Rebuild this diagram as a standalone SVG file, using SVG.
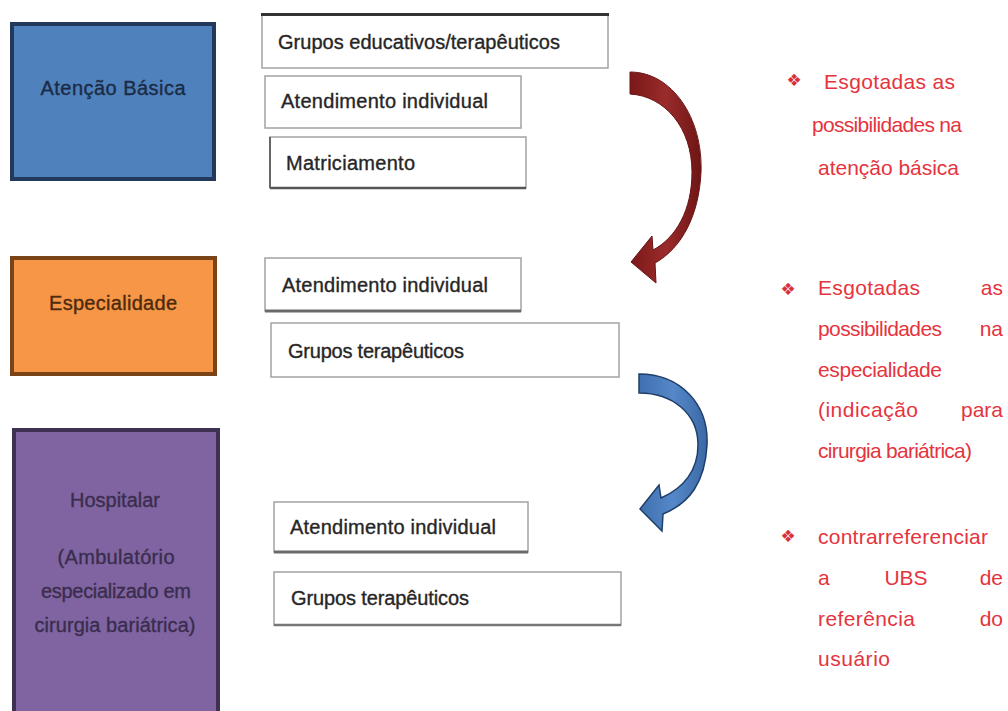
<svg xmlns="http://www.w3.org/2000/svg" width="1008" height="711" viewBox="0 0 1008 711">
<style>
.lbl{font-family:"Liberation Sans",Arial,sans-serif;font-size:20px;fill:#262626;stroke:#262626;stroke-width:0.35}
.wbox{fill:#ffffff;stroke:#a3a3a3;stroke-width:1.5}
.dk{stroke:#555;stroke-width:2.5}
.red{font-family:"Liberation Sans",Arial,sans-serif;font-size:21px;fill:#e5343d}
.bul{font-family:"DejaVu Sans",sans-serif;font-size:17px;fill:#d9303a}
</style>
<defs>
<linearGradient id="gRed" x1="0" y1="0" x2="1" y2="0">
<stop offset="0" stop-color="#7a1818"/><stop offset="0.5" stop-color="#9a2b2b"/><stop offset="1" stop-color="#6e1515"/>
</linearGradient>
<linearGradient id="gBlue" x1="0" y1="0" x2="1" y2="0">
<stop offset="0" stop-color="#3f6fae"/><stop offset="0.5" stop-color="#5588c8"/><stop offset="1" stop-color="#3b68a5"/>
</linearGradient>
</defs>
<rect width="1008" height="711" fill="#ffffff"/>

<g id="atencao-basica">
<rect x="12" y="24" width="202" height="155" fill="#4f81bd" stroke="#23395b" stroke-width="4"/>
<text x="113" y="95" class="lbl" style="fill:#1b2b45;stroke:#1b2b45" text-anchor="middle" textLength="145">Atenção Básica</text>
</g>
<g id="grupos-educativos">
<rect x="262" y="14" width="346" height="54" class="wbox"/>
<line x1="261" y1="14.5" x2="609" y2="14.5" stroke="#333" stroke-width="3"/>
<text x="278" y="49" class="lbl" textLength="282">Grupos educativos/terapêuticos</text>
</g>
<g id="atendimento-ab">
<rect x="265" y="76" width="256" height="52" class="wbox"/>
<text x="281" y="108" class="lbl" textLength="207">Atendimento individual</text>
</g>
<g id="matriciamento">
<rect x="270" y="137" width="256" height="51" class="wbox"/>
<line x1="270" y1="188" x2="526" y2="188" class="dk"/>
<line x1="270" y1="137" x2="270" y2="188" stroke="#666" stroke-width="2"/>
<text x="286" y="170" class="lbl" textLength="129">Matriciamento</text>
</g>

<g id="especialidade">
<rect x="12" y="258" width="203" height="116" fill="#f79646" stroke="#7a4418" stroke-width="4"/>
<text x="113" y="310" class="lbl" style="fill:#4d2a0e;stroke:#4d2a0e" text-anchor="middle" textLength="128">Especialidade</text>
</g>
<g id="atendimento-esp">
<rect x="265" y="258" width="256" height="53" class="wbox"/>
<line x1="265" y1="311" x2="521" y2="311" stroke="#6a6a6a" stroke-width="3"/>
<text x="282" y="292" class="lbl" textLength="206">Atendimento individual</text>
</g>
<g id="grupos-esp">
<rect x="271" y="323" width="348" height="54" class="wbox"/>
<text x="288" y="358" class="lbl" textLength="176">Grupos terapêuticos</text>
</g>

<g id="hospitalar">
<rect x="14" y="430" width="204" height="295" fill="#8064a2" stroke="#3f3151" stroke-width="4"/>
<text x="115" y="507" class="lbl" style="fill:#3a2d4d;stroke:#3a2d4d" text-anchor="middle" textLength="90">Hospitalar</text>
<text x="116" y="564" class="lbl" style="fill:#3a2d4d;stroke:#3a2d4d" text-anchor="middle" textLength="117">(Ambulatório</text>
<text x="116" y="598" class="lbl" style="fill:#3a2d4d;stroke:#3a2d4d" text-anchor="middle" textLength="150">especializado em</text>
<text x="115" y="632" class="lbl" style="fill:#3a2d4d;stroke:#3a2d4d" text-anchor="middle" textLength="161">cirurgia bariátrica)</text>
</g>
<g id="atendimento-hosp">
<rect x="274" y="502" width="254" height="50" class="wbox"/>
<line x1="274" y1="552" x2="528" y2="552" stroke="#6a6a6a" stroke-width="3"/>
<text x="290" y="534" class="lbl" textLength="206">Atendimento individual</text>
</g>
<g id="grupos-hosp">
<rect x="274" y="572" width="347" height="53" class="wbox"/>
<line x1="274" y1="625" x2="621" y2="625" stroke="#777" stroke-width="2.5"/>
<text x="291" y="605" class="lbl" textLength="178">Grupos terapêuticos</text>
</g>

<g id="connectors">
<path d="M630,72 C672,72 703,118 701,172 C699,215 682,248 655,263 L656,283 L631,262 L652,236 L653,250 C676,238 692,210 692,172 C692,128 665,96 630,94 Z" fill="url(#gRed)" stroke="#6a1414" stroke-width="1"/>
<path d="M639,374 C681,374 709,405 707,445 C705,482 690,503 663,514 L662,531 L640,509 L659,485 L661,498 C684,488 698,470 698,445 C698,413 672,393 639,393 Z" fill="url(#gBlue)" stroke="#1f3f6a" stroke-width="1.5"/>
</g>

<g id="nota-1">
<text x="794" y="86" class="bul" text-anchor="middle">❖</text>
<text x="824" y="89" class="red" textLength="131">Esgotadas as</text>
<text x="812" y="132" class="red" textLength="150">possibilidades na</text>
<text x="818" y="175" class="red" textLength="141">atenção básica</text>
</g>
<g id="nota-2">
<text x="788" y="295" class="bul" text-anchor="middle">❖</text>
<text x="818" y="295" class="red" textLength="102">Esgotadas</text>
<text x="1003" y="295" class="red" text-anchor="end">as</text>
<text x="818" y="336" class="red" textLength="124">possibilidades</text>
<text x="1003" y="336" class="red" text-anchor="end">na</text>
<text x="818" y="377" class="red" textLength="124">especialidade</text>
<text x="818" y="417" class="red" textLength="100">(indicação</text>
<text x="1003" y="417" class="red" text-anchor="end">para</text>
<text x="818" y="458" class="red" textLength="154">cirurgia bariátrica)</text>
</g>
<g id="nota-3">
<text x="788" y="542" class="bul" text-anchor="middle">❖</text>
<text x="818" y="544" class="red" textLength="170">contrarreferenciar</text>
<text x="818" y="585" class="red">a</text>
<text x="906" y="585" class="red" text-anchor="middle">UBS</text>
<text x="1003" y="585" class="red" text-anchor="end">de</text>
<text x="818" y="626" class="red" textLength="97">referência</text>
<text x="1003" y="626" class="red" text-anchor="end">do</text>
<text x="818" y="666" class="red" textLength="72">usuário</text>
</g>
</svg>
